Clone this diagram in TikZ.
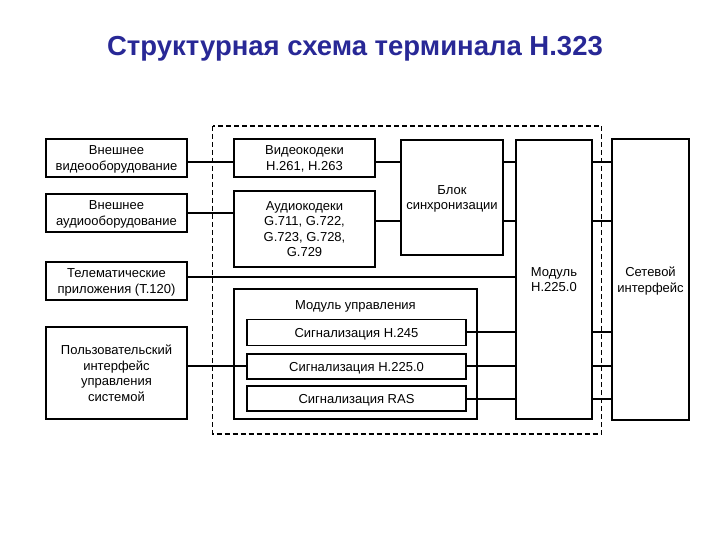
\documentclass[tikz,border=0pt]{standalone}
\usepackage{fontspec}
\setmainfont{Liberation Sans}
\usetikzlibrary{calc}
\definecolor{titul}{RGB}{40,40,150}
\tikzset{
	blok/.style={draw, line width=1.6pt, fill=white, align=center, inner sep=0pt,
		text depth=-1pt, font=\fontsize{13}{15.5}\selectfont},
	svyaz/.style={line width=1.6pt},
	granica/.style={line width=1.4pt, dash pattern=on 5pt off 3pt},
}

\begin{document}
\begin{tikzpicture}[x=1pt, y=-1pt]
		%%%%% START %%%%%
		\useasboundingbox (0, 0) rectangle (720, 540);
		
		\node[font=\fontsize{27.5}{32}\bfseries\selectfont, color=titul, anchor=base] (zagolovok) at (355, 56) {Структурная схема терминала H.323};
		
		\draw[granica] (212.5, 126) rectangle (601.5, 434);
		
		% left column
		\node[blok, minimum width=141pt, minimum height=38pt] (vneshvid) at (116.5, 158) {Внешнее\\видеооборудование};
		\node[blok, minimum width=141pt, minimum height=38pt] (vneshaud) at (116.5, 213) {Внешнее\\аудиооборудование};
		\node[blok, minimum width=141pt, minimum height=38pt] (telemat) at (116.5, 281) {Телематические\\приложения (T.120)};
		\node[blok, minimum width=141pt, minimum height=92pt] (polzov) at (116.5, 373) {Пользовательский\\интерфейс\\управления\\системой};
		
		% codecs, sync
		\node[blok, minimum width=141pt, minimum height=38pt] (videokod) at (304.5, 158) {Видеокодеки\\H.261, H.263};
		\node[blok, minimum width=141pt, minimum height=76pt] (audiokod) at (304.5, 229) {Аудиокодеки\\G.711, G.722,\\G.723, G.728,\\G.729};
		\node[blok, minimum width=102pt, minimum height=115pt] (sinhr) at (452, 197.5) {Блок\\синхронизации};
		
		% control module
		\node[blok, minimum width=243pt, minimum height=130pt] (upravl) at (355.5, 354) {};
		\node[font=\fontsize{13}{15.5}\selectfont] (upravlname) at (355.5, 306) {Модуль управления};
		\node[blok, minimum width=219pt, minimum height=26pt] (sigH245) at (356.5, 332.5) {Сигнализация H.245};
		\node[blok, minimum width=219pt, minimum height=25pt] (sigH225) at (356.5, 366.5) {Сигнализация H.225.0};
		\node[blok, minimum width=219pt, minimum height=25pt] (sigRAS) at (356.5, 398.5) {Сигнализация RAS};
		
		% right column
		\node[blok, minimum width=76pt, minimum height=279pt] (modul) at (554, 279.5) {Модуль\\H.225.0};
		\node[blok, minimum width=77pt, minimum height=281pt] (setev) at (650.5, 279.5) {Сетевой\\интерфейс};
		
		% connections
		\draw[svyaz] (vneshvid.east |- 0, 162) -- (videokod.west |- 0, 162);
		\draw[svyaz] (videokod.east |- 0, 162) -- (sinhr.west |- 0, 162);
		\draw[svyaz] (sinhr.east |- 0, 162) -- (modul.west |- 0, 162);
		\draw[svyaz] (modul.east |- 0, 162) -- (setev.west |- 0, 162);
		
		\draw[svyaz] (vneshaud.east |- 0, 213) -- (audiokod.west |- 0, 213);
		\draw[svyaz] (audiokod.east |- 0, 221) -- (sinhr.west |- 0, 221);
		\draw[svyaz] (sinhr.east |- 0, 221) -- (modul.west |- 0, 221);
		\draw[svyaz] (modul.east |- 0, 221) -- (setev.west |- 0, 221);
		
		\draw[svyaz] (telemat.east |- 0, 277) -- (modul.west |- 0, 277);
		
		\draw[svyaz] (polzov.east |- 0, 366) -- (sigH225.west |- 0, 366);
		\draw[svyaz] (sigH245.east |- 0, 332) -- (modul.west |- 0, 332);
		\draw[svyaz] (sigH225.east |- 0, 366) -- (modul.west |- 0, 366);
		\draw[svyaz] (sigRAS.east |- 0, 399) -- (modul.west |- 0, 399);
		
		\draw[svyaz] (modul.east |- 0, 332) -- (setev.west |- 0, 332);
		\draw[svyaz] (modul.east |- 0, 366) -- (setev.west |- 0, 366);
		\draw[svyaz] (modul.east |- 0, 399) -- (setev.west |- 0, 399);
		
		%%%%% END %%%%%
\end{tikzpicture}
\end{document}
